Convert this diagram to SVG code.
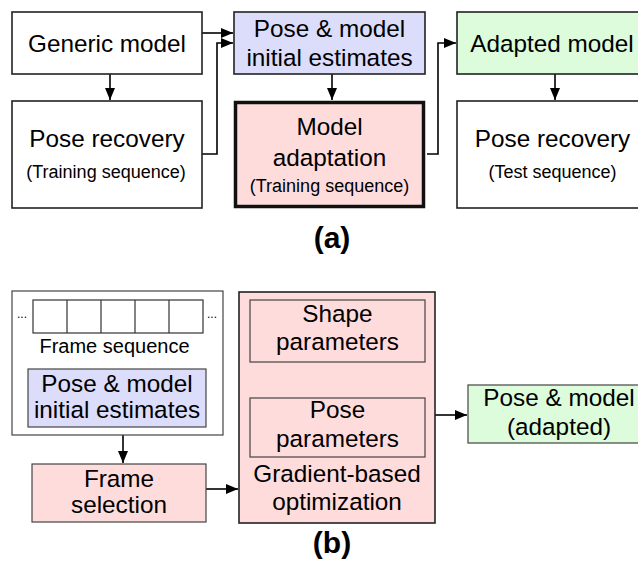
<svg xmlns="http://www.w3.org/2000/svg" width="638" height="566" viewBox="0 0 638 566">
<defs>
<style>
text{font-family:"Liberation Sans",Arial,sans-serif;fill:#000;text-anchor:middle}
.t{font-size:24.3px}
.s{font-size:18px}
.f{font-size:20px}
.lab{font-size:30px;font-weight:bold}
.box{stroke:#222;stroke-width:1.6}
.in{stroke:#444;stroke-width:1.2}
.w{fill:#fff}.b{fill:#dcdcfb}.p{fill:#ffdcdc}.g{fill:#dcfcdc}
.c{fill:none;stroke:#000;stroke-width:1.6}
.ci{fill:none;stroke:#000;stroke-width:1.2}
</style>
<marker id="ah" viewBox="0 0 12 10" refX="12" refY="5" markerWidth="12" markerHeight="10" markerUnits="userSpaceOnUse" orient="auto"><path d="M0,0 L12,5 L0,10 z" fill="#000"/></marker>
<marker id="ahs" viewBox="0 0 8 8" refX="8" refY="4" markerWidth="8" markerHeight="8" markerUnits="userSpaceOnUse" orient="auto"><path d="M0,0 L8,4 L0,8 z" fill="#000"/></marker>
</defs>
<g id="connectors">
<path class="c" d="M202,33 H233" marker-end="url(#ah)"/>
<path class="c" d="M110,74 V100" marker-end="url(#ah)"/>
<path class="c" d="M202,154 H217 V43 H233" marker-end="url(#ah)"/>
<path class="c" d="M332,74 V100" marker-end="url(#ah)"/>
<path class="c" d="M427,154 H438 V43 H456" marker-end="url(#ah)"/>
<path class="c" d="M555,74 V100" marker-end="url(#ah)"/>
<path class="c" d="M123,435 V463" marker-end="url(#ah)"/>
<path class="c" d="M206,489 H238" marker-end="url(#ah)"/>
<path class="c" d="M435,415 H467" marker-end="url(#ah)"/>
<path class="ci" d="M327,362 V397" marker-end="url(#ahs)"/>
<path class="ci" d="M351,398 V363" marker-end="url(#ahs)"/>
</g>
<g id="generic-model"><rect class="box w" x="12" y="12" width="190" height="62"/><text class="t" x="107" y="52">Generic model</text></g>
<g id="pose-recovery-train"><rect class="box w" x="12" y="101" width="190" height="107"/><text class="t" x="107" y="147">Pose recovery</text><text class="s" x="106" y="178">(Training sequence)</text></g>
<g id="initial-estimates"><rect class="box b" x="234" y="12" width="191" height="62"/><text class="t" x="329.5" y="37">Pose &amp; model</text><text class="t" x="329.5" y="66">initial estimates</text></g>
<g id="model-adaptation"><rect fill="#ffdcdc" stroke="#111" stroke-width="3.5" x="235.5" y="102.5" width="188" height="104"/><text class="t" x="329.5" y="135">Model</text><text class="t" x="329.5" y="166">adaptation</text><text class="s" x="329.5" y="192">(Training sequence)</text></g>
<g id="adapted-model"><rect class="box g" x="457" y="12" width="190" height="62"/><text class="t" x="552" y="52">Adapted model</text></g>
<g id="pose-recovery-test"><rect class="box w" x="457" y="101" width="190" height="107"/><text class="t" x="552.5" y="147">Pose recovery</text><text class="s" x="552.5" y="178">(Test sequence)</text></g>
<text class="lab" x="332" y="248">(a)</text>
<g id="frame-input"><rect class="in w" x="12" y="291" width="211" height="144"/>
<rect fill="#fff" stroke="#333" stroke-width="1.2" x="33" y="300" width="170" height="33"/>
<path stroke="#333" stroke-width="1.2" d="M67,300 V333 M101,300 V333 M135,300 V333 M169,300 V333"/>
<text x="22" y="318" style="font-size:12px">...</text><text x="212" y="318" style="font-size:12px">...</text>
<text class="f" x="114.5" y="353">Frame sequence</text>
<g id="initial-estimates-b"><rect class="in b" x="28" y="369" width="178" height="58"/><text class="t" x="117" y="392">Pose &amp; model</text><text class="t" x="117" y="418">initial estimates</text></g></g>
<g id="frame-selection"><rect class="in p" x="32" y="464" width="174" height="58"/><text class="t" x="119" y="487">Frame</text><text class="t" x="119" y="513">selection</text></g>
<g id="optimization"><rect class="box p" x="239" y="292" width="196" height="231"/><text class="t" x="337" y="482">Gradient-based</text><text class="t" x="337" y="510">optimization</text></g>
<g id="shape-parameters"><rect class="in p" x="250" y="300" width="175" height="62"/><text class="t" x="337.5" y="322">Shape</text><text class="t" x="337.5" y="350">parameters</text></g>
<g id="pose-parameters"><rect class="in p" x="250" y="398" width="175" height="59"/><text class="t" x="337.5" y="418">Pose</text><text class="t" x="337.5" y="447">parameters</text></g>
<g id="adapted-output"><rect class="in g" x="468" y="385" width="180" height="58"/><text class="t" x="559" y="406">Pose &amp; model</text><text class="t" x="559" y="435">(adapted)</text></g>
<text class="lab" x="332" y="553">(b)</text>
</svg>
